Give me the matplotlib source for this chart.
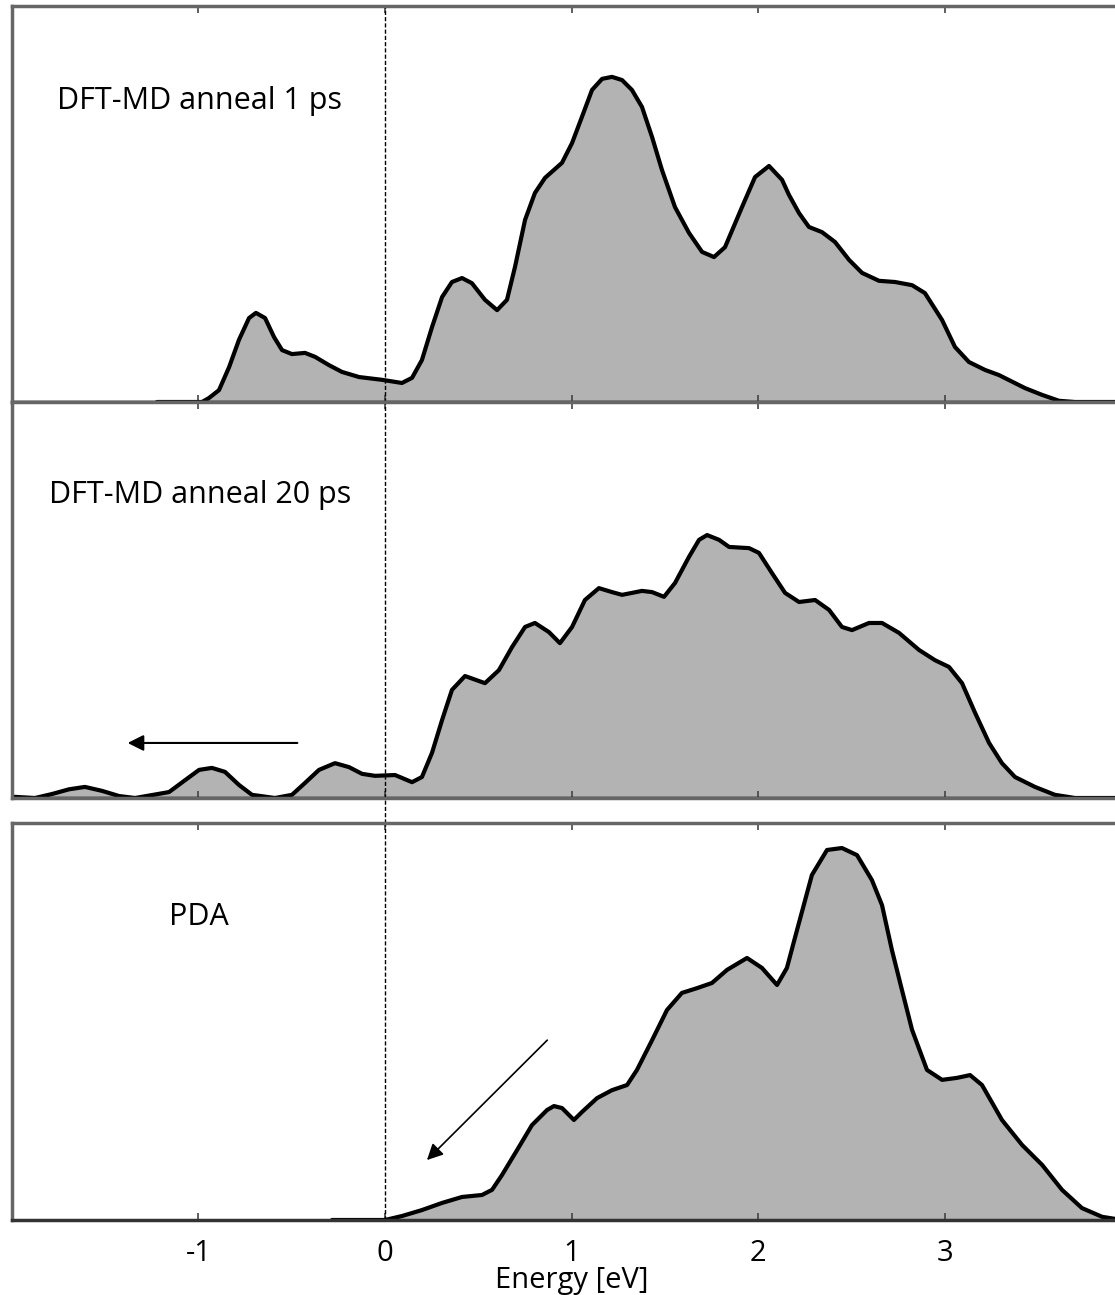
import numpy as np
import matplotlib
matplotlib.use("Agg")
import matplotlib.pyplot as plt

plt.rcParams['font.family'] = ['Open Sans', 'DejaVu Sans']

# energies [eV] and normalised DOS
e_1ps = [-1.223, -0.981, -0.944, -0.890, -0.836, -0.783, -0.729, -0.692, -0.643, -0.595,
         -0.552, -0.499, -0.429, -0.375, -0.300, -0.231, -0.139, -0.016, 0.091, 0.145,
         0.198, 0.252, 0.306, 0.359, 0.413, 0.466, 0.536, 0.601, 0.654, 0.697,
         0.751, 0.804, 0.858, 0.949, 1.003, 1.056, 1.110, 1.164, 1.217, 1.271,
         1.324, 1.378, 1.432, 1.485, 1.555, 1.630, 1.700, 1.764, 1.823, 1.914,
         1.984, 2.059, 2.129, 2.166, 2.220, 2.273, 2.343, 2.413, 2.488, 2.558,
         2.649, 2.735, 2.826, 2.895, 2.987, 3.056, 3.131, 3.217, 3.292, 3.432,
         3.523, 3.614, 3.700, 4.0]
dos_1ps = [0.0, 0.0, 0.010, 0.030, 0.088, 0.157, 0.212, 0.225, 0.212, 0.164,
           0.131, 0.121, 0.124, 0.114, 0.093, 0.076, 0.063, 0.056, 0.048, 0.061,
           0.106, 0.189, 0.265, 0.303, 0.313, 0.300, 0.258, 0.232, 0.258, 0.341,
           0.460, 0.528, 0.566, 0.604, 0.654, 0.720, 0.788, 0.816, 0.821, 0.813,
           0.788, 0.745, 0.669, 0.586, 0.492, 0.427, 0.379, 0.366, 0.391, 0.492,
           0.568, 0.596, 0.561, 0.523, 0.477, 0.442, 0.429, 0.404, 0.359, 0.326,
           0.306, 0.303, 0.295, 0.275, 0.207, 0.139, 0.101, 0.081, 0.068, 0.035,
           0.018, 0.003, 0.0, 0.0]

e_20ps = [-1.989, -1.877, -1.786, -1.694, -1.609, -1.517, -1.426, -1.340, -1.158, -1.072,
          -0.997, -0.928, -0.858, -0.783, -0.713, -0.590, -0.499, -0.429, -0.354, -0.268,
          -0.193, -0.123, -0.054, 0.0, 0.054, 0.145, 0.198, 0.252, 0.306, 0.359,
          0.429, 0.536, 0.611, 0.681, 0.751, 0.804, 0.879, 0.938, 1.003, 1.072,
          1.147, 1.217, 1.271, 1.378, 1.432, 1.496, 1.555, 1.630, 1.684, 1.727,
          1.791, 1.845, 1.952, 2.005, 2.075, 2.145, 2.220, 2.306, 2.381, 2.450,
          2.504, 2.595, 2.665, 2.756, 2.863, 2.949, 3.024, 3.094, 3.164, 3.239,
          3.308, 3.378, 3.485, 3.592, 3.700, 4.0]
dos_20ps = [0.003, 0.0, 0.010, 0.022, 0.028, 0.018, 0.005, 0.0, 0.015, 0.045,
            0.071, 0.076, 0.066, 0.033, 0.008, 0.0, 0.008, 0.038, 0.071, 0.088,
            0.078, 0.061, 0.056, 0.057, 0.058, 0.040, 0.053, 0.114, 0.197, 0.273,
            0.308, 0.290, 0.323, 0.381, 0.432, 0.442, 0.419, 0.391, 0.432, 0.500,
            0.530, 0.520, 0.513, 0.523, 0.520, 0.508, 0.543, 0.609, 0.652, 0.664,
            0.652, 0.634, 0.631, 0.619, 0.568, 0.518, 0.495, 0.500, 0.475, 0.432,
            0.424, 0.442, 0.442, 0.417, 0.374, 0.348, 0.331, 0.290, 0.215, 0.139,
            0.088, 0.053, 0.028, 0.008, 0.0, 0.0]

e_pda = [-0.284, 0.0, 0.091, 0.198, 0.306, 0.413, 0.520, 0.574, 0.627, 0.708,
         0.788, 0.869, 0.906, 0.949, 1.013, 1.056, 1.137, 1.217, 1.298, 1.351,
         1.432, 1.512, 1.592, 1.673, 1.753, 1.834, 1.941, 2.021, 2.102, 2.155,
         2.209, 2.289, 2.370, 2.450, 2.531, 2.611, 2.665, 2.718, 2.772, 2.826,
         2.906, 2.987, 3.067, 3.137, 3.201, 3.308, 3.416, 3.523, 3.630, 3.737,
         3.845, 3.952, 4.0]
dos_pda = [0.0, 0.0, 0.010, 0.025, 0.043, 0.058, 0.063, 0.076, 0.113, 0.176,
           0.239, 0.277, 0.287, 0.282, 0.252, 0.272, 0.307, 0.327, 0.340, 0.378,
           0.453, 0.529, 0.572, 0.584, 0.597, 0.630, 0.660, 0.635, 0.592, 0.635,
           0.730, 0.869, 0.932, 0.937, 0.919, 0.856, 0.793, 0.680, 0.579, 0.479,
           0.378, 0.353, 0.358, 0.365, 0.340, 0.252, 0.189, 0.139, 0.076, 0.030,
           0.008, 0.0, 0.0]

labels = ["DFT-MD anneal 1 ps", "DFT-MD anneal 20 ps", "PDA"]
label_pos = [(-1.76, 0.76), (-1.80, 0.765), (-1.16, 0.763)]
xticks = [-1, 0, 1, 2, 3]
xticklabels = ["-1", "0", "1", "2", "3"]

fig = plt.figure(figsize=(11.15, 12.95), dpi=100)
left, width = 0.01076, 1.0036
ax1 = fig.add_axes([left, 0.68958, width, 0.30579])
ax2 = fig.add_axes([left, 0.38378, width, 0.30579])
ax3 = fig.add_axes([left, 0.05792, width, 0.30656])
axes = [ax1, ax2, ax3]
series = [(e_1ps, dos_1ps), (e_20ps, dos_20ps), (e_pda, dos_pda)]

for ax, (e, d), lab, pos in zip(axes, series, labels, label_pos):
    ax.fill_between(e, d, 0, color="#b3b3b3", lw=0)
    ax.plot(e, d, color="black", lw=3, solid_joinstyle="round", solid_capstyle="round")
    ax.set_xlim(-2, 4)
    ax.set_ylim(0, 1)
    ax.set_yticks([])
    ax.set_xticks(xticks)
    ax.tick_params(axis="x", direction="in", top=True, bottom=True, length=5,
                   width=1.2, color="#444444", labelbottom=False)
    for s in ax.spines.values():
        s.set_color("#666666")
        s.set_linewidth(2.5)
    ax.text(pos[0], pos[1], lab, fontsize=22, ha="left", va="center")

ax1.axhline(0, color="black", lw=2.5)
ax2.axhline(0, color="black", lw=2.5)
ax3.spines["bottom"].set_color("#333333")

ax1.axvline(0, color="black", lw=1, ls=(0, (3, 1.5)))
ax2.axvline(0, ymin=-0.063, ymax=1, color="black", lw=1, ls=(0, (3, 1.5)), clip_on=False)
ax3.axvline(0, color="black", lw=1, ls=(0, (3, 1.5)))

ax3.tick_params(axis="x", labelbottom=True, labelsize=21, pad=14)
ax3.set_xticklabels(xticklabels)
ax3.set_xlabel("Energy [eV]", fontsize=21, labelpad=-2)

# arrows
ax2.annotate("", xy=(-1.38, 0.139), xytext=(-0.47, 0.139),
             arrowprops=dict(arrowstyle="-|>", color="black", lw=1.5,
                             mutation_scale=24, shrinkA=0, shrinkB=0))
ax3.annotate("", xy=(0.225, 0.151), xytext=(0.87, 0.453),
             arrowprops=dict(arrowstyle="-|>", color="black", lw=1.2,
                             mutation_scale=24, shrinkA=0, shrinkB=0))

fig.savefig("out.png", dpi=100)
